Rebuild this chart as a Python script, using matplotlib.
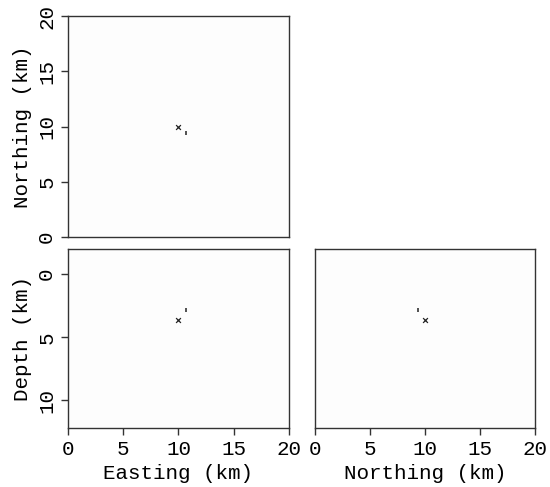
"""Event location panels: map view and two depth sections."""

import matplotlib
matplotlib.use("Agg")
import matplotlib.pyplot as plt

# true source location (km)
true_easting = [10.0]
true_northing = [10.0]
true_depth = [3.65]

# estimated location (km)
est_easting = [10.7]
est_northing = [9.4]
est_depth = [2.8]

ticks_horiz = [0, 5, 10, 15, 20]
ticks_depth = [0, 5, 10]

plt.rcParams["font.family"] = ["Liberation Mono", "DejaVu Sans Mono"]
plt.rcParams["font.size"] = 15

fig = plt.figure(figsize=(5.5, 4.87), dpi=100)
ax_map = fig.add_axes([0.1236, 0.5133, 0.4018, 0.4538])
ax_ez = fig.add_axes([0.1236, 0.1211, 0.4018, 0.3676])
ax_nz = fig.add_axes([0.5727, 0.1211, 0.4, 0.3676])

bg = "#fdfdfd"
for ax in (ax_map, ax_ez, ax_nz):
    ax.set_facecolor(bg)
    for s in ax.spines.values():
        s.set_color("#333333")
        s.set_linewidth(1.0)
    ax.tick_params(direction="out", length=5, width=1.0, color="#333333")

# map view
ax_map.scatter(true_easting, true_northing, marker="x", s=12, c="#222222", linewidths=0.9)
ax_map.scatter(est_easting, est_northing, marker="|", s=8, c="#333333", linewidths=1.2)
ax_map.set_xlim(0, 20)
ax_map.set_ylim(0, 20)
ax_map.set_xticks([])
ax_map.set_yticks(ticks_horiz)
ax_map.set_ylabel("Northing (km)")

# easting-depth section
ax_ez.scatter(true_easting, true_depth, marker="x", s=12, c="#222222", linewidths=0.9)
ax_ez.scatter(est_easting, est_depth, marker="|", s=8, c="#333333", linewidths=1.2)
ax_ez.set_xlim(0, 20)
ax_ez.set_ylim(12.2, -2.0)
ax_ez.set_xticks(ticks_horiz)
ax_ez.set_yticks(ticks_depth)
ax_ez.set_xlabel("Easting (km)")
ax_ez.set_ylabel("Depth (km)")

# northing-depth section
ax_nz.scatter(true_northing, true_depth, marker="x", s=12, c="#222222", linewidths=0.9)
ax_nz.scatter(est_northing, est_depth, marker="|", s=8, c="#333333", linewidths=1.2)
ax_nz.set_xlim(0, 20)
ax_nz.set_ylim(12.2, -2.0)
ax_nz.set_xticks(ticks_horiz)
ax_nz.set_yticks([])
ax_nz.set_xlabel("Northing (km)")

for ax in (ax_map, ax_ez):
    for lab in ax.get_yticklabels():
        lab.set_rotation(90)
        lab.set_va("center")

fig.savefig("out.png", dpi=100)
